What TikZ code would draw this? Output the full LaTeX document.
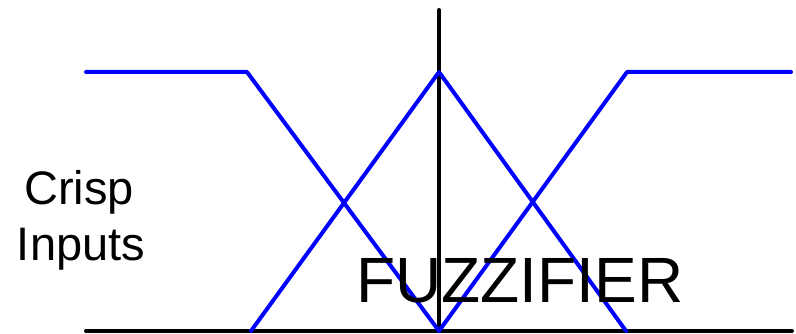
\documentclass[tikz,border=0pt]{standalone}
\usepackage{fontspec}
\setmainfont{Liberation Sans}
\begin{document}
\begin{tikzpicture}[x=1pt,y=-1pt,
    axis/.style={line width=4pt, line cap=round},
    memb/.style={blue, line width=4pt, line cap=round, line join=round},
    label/.style={inner sep=0pt, anchor=base}]
    \useasboundingbox (0,0) rectangle (796,334);

    % Axes
    \coordinate (bl) at (86,331);
    \coordinate (br) at (792,331);
    \coordinate (top) at (439,10);
    \coordinate (mid) at (439,331);
    \draw[axis] (bl) -- (br);
    \draw[axis] (mid) -- (top);

    % Membership functions
    \coordinate (ll) at (86,72);
    \coordinate (lk) at (247,72);
    \coordinate (tl) at (251,331);
    \coordinate (peak) at (439,72);
    \coordinate (tr) at (626,331);
    \coordinate (rk) at (627,72);
    \coordinate (rr) at (791,72);
    \draw[memb] (ll) -- (lk) -- (mid);
    \draw[memb] (tl) -- (peak) -- (tr);
    \draw[memb] (mid) -- (rk) -- (rr);

    % Labels
    \node[label, font=\fontsize{47}{55}\selectfont] (crisp) at (79,205) {Crisp};
    \node[label, font=\fontsize{47}{55}\selectfont] (inputs) at (81,260) {Inputs};
    \node[label, font=\fontsize{64}{70}\selectfont] (fuzz) at (520,302) {FUZZIFIER};
\end{tikzpicture}
\end{document}
